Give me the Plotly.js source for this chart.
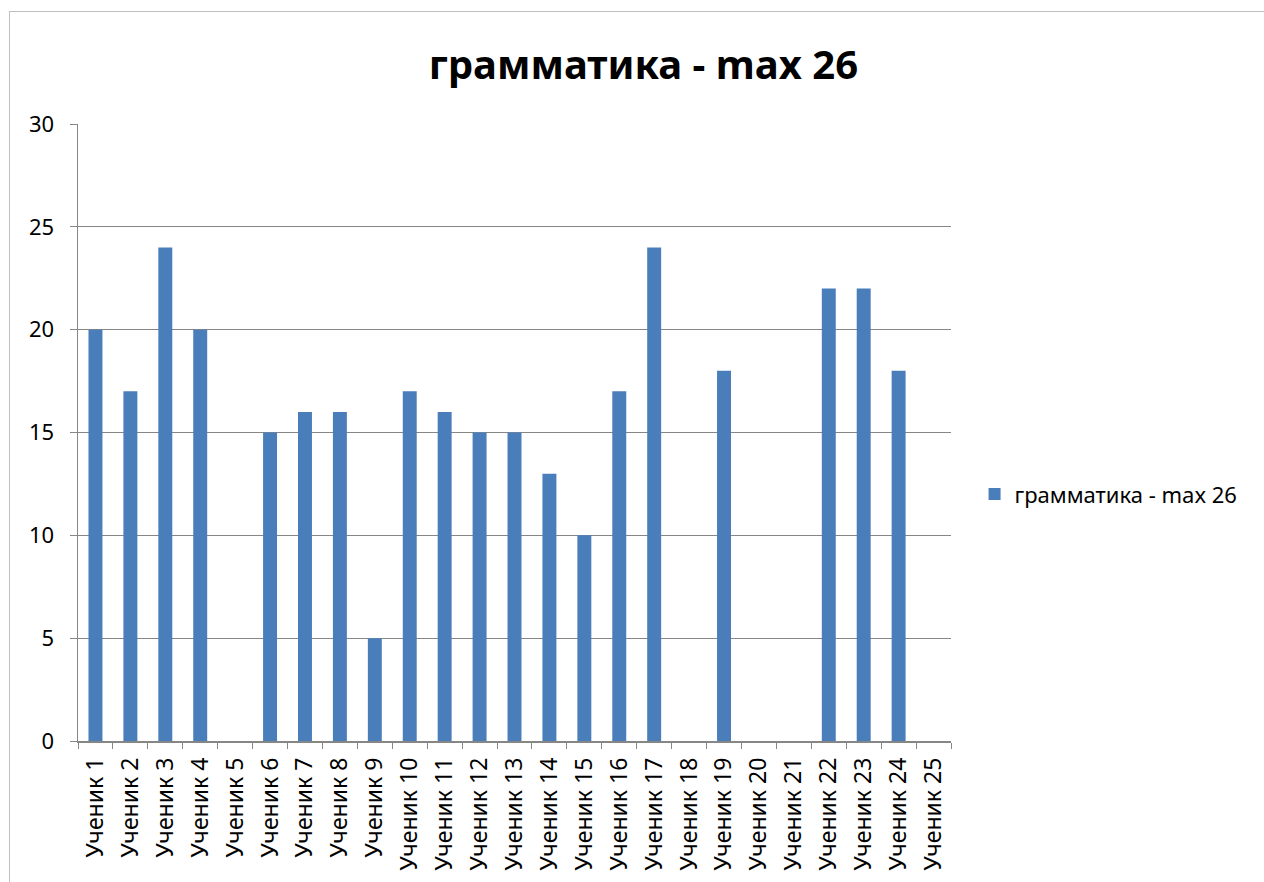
<!DOCTYPE html>
<html>
<head>
<meta charset="utf-8">
<script src="https://cdn.plot.ly/plotly-3.0.1.min.js"></script>
<style>
html,body{margin:0;padding:0;background:#fff;}
#frame{position:absolute;left:9px;top:11px;width:1300px;height:900px;border:1px solid #bfbfbf;box-sizing:border-box;pointer-events:none;}
#chart{position:absolute;left:0;top:0;width:1264px;height:882px;}
</style>
</head>
<body>
<div id="chart"></div>
<div id="frame"></div>
<script>
const categories = ["Ученик 1","Ученик 2","Ученик 3","Ученик 4","Ученик 5","Ученик 6","Ученик 7","Ученик 8","Ученик 9","Ученик 10","Ученик 11","Ученик 12","Ученик 13","Ученик 14","Ученик 15","Ученик 16","Ученик 17","Ученик 18","Ученик 19","Ученик 20","Ученик 21","Ученик 22","Ученик 23","Ученик 24","Ученик 25"];
const values = [20,17,24,20,0,15,16,16,5,17,16,15,15,13,10,17,24,0,18,0,0,22,22,18,0];
const seriesName = "грамматика - max 26";
const yTicks = [0,5,10,15,20,25,30];

const font = "Noto Sans, Open Sans, sans-serif";
Plotly.newPlot('chart', [{
  type: 'bar',
  x: categories,
  y: values,
  name: seriesName,
  marker: {color: '#4a7ebb'},
  showlegend: true
}], {
  width: 1264, height: 882,
  margin: {l: 78, r: 313, t: 124, b: 141, pad: 0},
  paper_bgcolor: '#fff', plot_bgcolor: '#fff',
  bargap: 0.6,
  title: {text: '<b>' + seriesName + '</b>', font: {family: font, size: 40, color: '#000'}, x: 0.509, xanchor: 'center', y: 0.926, yanchor: 'middle'},
  xaxis: {
    type: 'category', tickangle: -90, tickfont: {family: font, size: 23, color: '#000'},
    showline: true, linecolor: '#868686', linewidth: 1.5,
    ticks: 'outside', tickson: 'boundaries', ticklen: 6, tickcolor: '#868686',
    showgrid: false, fixedrange: true, ticklabelstandoff: 6
  },
  yaxis: {
    range: [0, 30], tickvals: yTicks, tickfont: {family: font, size: 22, color: '#000'},
    showline: true, linecolor: '#868686', linewidth: 1.5,
    ticks: 'outside', ticklen: 7, tickcolor: '#868686',
    showgrid: true, gridcolor: '#868686', gridwidth: 1.3, zeroline: false, ticklabelstandoff: 11
  },
  legend: {x: 1.027, y: 0.40, xanchor: 'left', yanchor: 'middle', font: {family: font, size: 22, color: '#000'}, itemwidth: 30}
}, {displayModeBar: false, staticPlot: true});
</script>
</body>
</html>
